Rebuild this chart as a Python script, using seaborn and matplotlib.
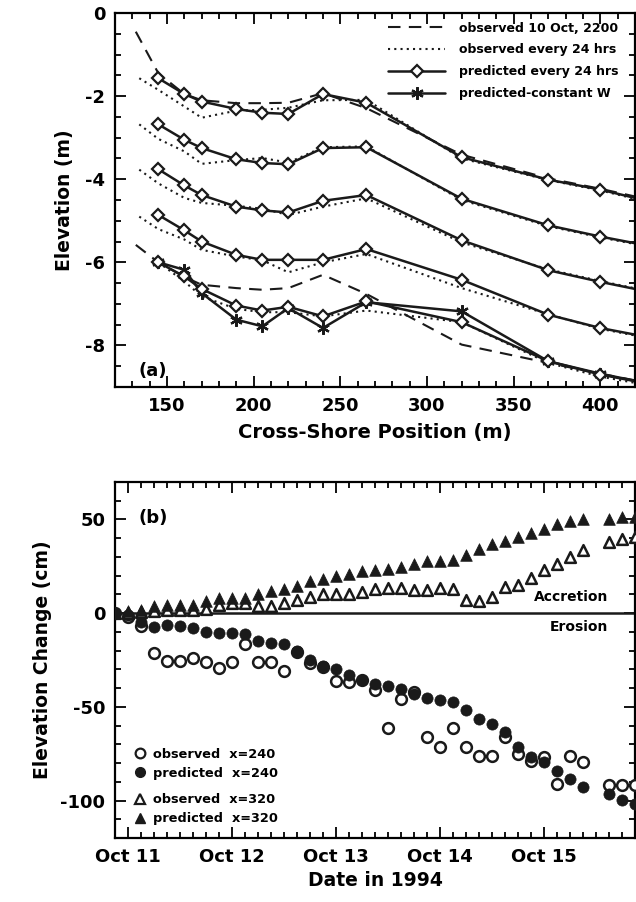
import numpy as np
import pandas as pd
import matplotlib
matplotlib.use("Agg")
import matplotlib.pyplot as plt
import seaborn as sns
from matplotlib.lines import Line2D
from matplotlib.ticker import MultipleLocator

# ---- panel (a): cross-shore profiles (m), offset for display ----
x_pred = [145, 160, 170, 190, 205, 220, 240, 265, 320, 370, 400, 440]
pred_1 = [-1.57, -1.95, -2.13, -2.31, -2.40, -2.43, -1.95, -2.16, -3.47, -4.01, -4.25, -4.65]
pred_2 = [-2.68, -3.05, -3.25, -3.52, -3.61, -3.64, -3.25, -3.23, -4.47, -5.11, -5.38, -5.70]
pred_3 = [-3.76, -4.15, -4.38, -4.66, -4.75, -4.80, -4.52, -4.38, -5.47, -6.19, -6.47, -6.81]
pred_4 = [-4.86, -5.23, -5.50, -5.82, -5.94, -5.94, -5.94, -5.68, -6.42, -7.26, -7.58, -7.90]
pred_5 = [-6.00, -6.34, -6.64, -7.04, -7.16, -7.07, -7.30, -6.94, -7.44, -8.38, -8.70, -9.02]
const_w = [-6.00, -6.18, -6.74, -7.38, -7.54, -7.10, -7.58, -6.96, -7.18, -8.38, -8.68, -9.02]

x_obs = [134, 145, 160, 170, 190, 205, 220, 240, 265, 320, 370, 400, 440]
obs_1 = [-1.57, -1.85, -2.25, -2.52, -2.35, -2.33, -2.28, -2.10, -2.09, -3.50, -4.02, -4.27, -4.67]
obs_2 = [-2.68, -3.03, -3.33, -3.63, -3.54, -3.49, -3.60, -3.23, -3.21, -4.50, -5.13, -5.40, -5.72]
obs_3 = [-3.77, -4.10, -4.45, -4.57, -4.64, -4.71, -4.86, -4.66, -4.46, -5.52, -6.17, -6.45, -6.80]
obs_4 = [-4.90, -5.20, -5.45, -5.70, -5.86, -5.95, -6.24, -6.00, -5.80, -6.62, -7.25, -7.60, -7.92]
x_obs5 = [145, 160, 170, 190, 205, 220, 240, 265, 320, 370, 400, 440]
obs_5 = [-6.00, -6.46, -6.82, -7.12, -7.20, -7.20, -7.30, -7.16, -7.44, -8.42, -8.75, -9.05]

x_init = [132, 145, 160, 170, 190, 205, 220, 240, 265, 320, 370, 400, 440]
init_top = [-0.45, -1.45, -1.95, -2.10, -2.17, -2.17, -2.16, -1.93, -2.29, -3.41, -3.98, -4.23, -4.60]
init_bot = [-5.58, -6.00, -6.35, -6.54, -6.62, -6.66, -6.62, -6.30, -6.76, -7.98, -8.42, -8.68, -9.00]

# ---- panel (b): elevation change (cm) every 3 hours from Oct 10 21:00 ----
hours = list(range(-3, 120, 3))
obs_240 = [0, -2.0, -6.6, -21.2, -25.7, -25.7, -23.9, -26.2, -29.2, -26.2, -16.4, -26.2, -26.2,
           -31.0, -20.5, -26.5, -28.5, -36.0, -36.5, -35.5, -41.0, -61.3, -45.8, -42.2, -66.3,
           -71.3, -61.3, -71.3, -76.5, -76.5, -65.9, -75.2, -79.1, -76.6, -91.2, -76.5, -79.3,
           np.nan, -91.6, -91.6, -91.6]
pred_240 = [0, -1.0, -4.8, -7.5, -6.2, -6.6, -8.0, -10.1, -10.5, -10.5, -11.0, -15.0, -15.8,
            -16.4, -20.3, -24.8, -28.0, -29.7, -32.8, -35.6, -37.8, -38.7, -40.4, -43.1, -45.2,
            -46.1, -47.2, -51.7, -56.5, -59.1, -63.6, -71.3, -76.6, -79.7, -84.5, -88.6, -93.0,
            np.nan, -96.6, -99.8, -101.9]
obs_320 = [0, 0, 0.5, 1.0, 1.5, 1.5, 1.5, 2.3, 4.5, 5.3, 5.3, 3.6, 3.6, 5.3, 6.8, 8.6, 10.0,
           10.0, 10.0, 11.2, 12.8, 13.6, 13.6, 12.1, 12.5, 13.6, 13.0, 7.1, 6.3, 8.6, 13.9, 14.8,
           18.9, 23.2, 26.4, 30.0, 33.9, np.nan, 38.0, 39.4, 40.6]
pred_320 = [0, 1.2, 1.8, 3.8, 4.1, 4.3, 4.3, 6.3, 7.9, 8.2, 8.2, 10.4, 11.8, 12.7, 14.6, 17.0,
            18.2, 19.6, 20.7, 22.3, 23.2, 23.7, 24.6, 26.4, 27.6, 27.8, 28.5, 31.2, 34.0, 37.1,
            38.5, 40.6, 42.8, 45.1, 47.4, 49.0, 50.0, np.nan, 50.5, 51.3, 51.3]
day_ticks = [0, 24, 48, 72, 96]
day_labels = ["Oct 11", "Oct 12", "Oct 13", "Oct 14", "Oct 15"]

sns.set_theme(style="ticks")
plt.rcParams['font.family'] = ['DejaVu Sans']
plt.rcParams['font.weight'] = 'bold'
plt.rcParams['axes.labelweight'] = 'bold'
plt.rcParams['axes.linewidth'] = 1.6
plt.rcParams['axes.unicode_minus'] = False
for key in ['text.color', 'axes.labelcolor', 'axes.edgecolor', 'xtick.color', 'ytick.color']:
    plt.rcParams[key] = 'black'

fig = plt.figure(figsize=(6.36, 9.02), dpi=100)
ax1 = fig.add_axes([115 / 636, 1 - 387 / 902, 520 / 636, 374 / 902])
ax2 = fig.add_axes([115 / 636, 1 - 838 / 902, 520 / 636, 356 / 902])

# panel (a)
for ys in [init_top, init_bot]:
    sns.lineplot(x=x_init, y=ys, ax=ax1, sort=False, estimator=None, color='k',
                 lw=1.5, dashes=(6, 4))
for xs, ys in [(x_obs, obs_1), (x_obs, obs_2), (x_obs, obs_3), (x_obs, obs_4), (x_obs5, obs_5)]:
    sns.lineplot(x=xs, y=ys, ax=ax1, sort=False, estimator=None, color='k',
                 lw=1.5, dashes=(1, 2))
sns.lineplot(x=x_pred, y=const_w, ax=ax1, sort=False, estimator=None, color='k', lw=1.8,
             marker=(6, 2, 0), ms=9, mew=1.6, mec='k')
for ys in [pred_1, pred_2, pred_3, pred_4, pred_5]:
    sns.lineplot(x=x_pred, y=ys, ax=ax1, sort=False, estimator=None, color='k', lw=1.8,
                 marker='D', ms=6, mfc='white', mec='k', mew=1.6)

ax1.set_xlim(120, 420)
ax1.set_ylim(-9, 0)
ax1.xaxis.set_major_locator(MultipleLocator(50))
ax1.xaxis.set_minor_locator(MultipleLocator(10))
ax1.yaxis.set_major_locator(MultipleLocator(2))
ax1.yaxis.set_minor_locator(MultipleLocator(0.5))
ax1.set_xlabel("Cross-Shore Position (m)", fontsize=14, labelpad=6)
ax1.set_ylabel("Elevation (m)", fontsize=13.5, labelpad=8)
ax1.text(0.045, 0.03, "(a)", transform=ax1.transAxes, fontsize=13, fontweight='bold')

handles_a = [
    Line2D([], [], color='k', lw=1.5, ls=(0, (6, 4))),
    Line2D([], [], color='k', lw=1.5, ls=(0, (1, 2))),
    Line2D([], [], color='k', lw=1.8, marker='D', ms=6, mfc='white', mew=1.6, markevery=[0, -1]),
    Line2D([], [], color='k', lw=1.8, marker=(6, 2, 0), ms=9, mew=1.6, markevery=[0, -1]),
]
labels_a = ["observed 10 Oct, 2200", "observed every 24 hrs",
            "predicted every 24 hrs", "predicted-constant W"]
ax1.legend(handles_a, labels_a, loc='upper left', bbox_to_anchor=(0.515, 0.99),
           frameon=False, fontsize=9.0, handlelength=4.6, handletextpad=1.1,
           labelspacing=0.7, borderaxespad=0)

# panel (b)
df_b = pd.DataFrame({"hour": hours, "obs_240": obs_240, "pred_240": pred_240,
                     "obs_320": obs_320, "pred_320": pred_320})
sns.scatterplot(data=df_b, x="hour", y="obs_240", ax=ax2, marker='o', s=60,
                facecolor='white', edgecolor='k', linewidth=1.8, zorder=3)
sns.scatterplot(data=df_b, x="hour", y="pred_240", ax=ax2, marker='o', s=65,
                color='k', edgecolor='k', linewidth=0.5, zorder=3)
sns.scatterplot(data=df_b, x="hour", y="obs_320", ax=ax2, marker='^', s=60,
                facecolor='white', edgecolor='k', linewidth=1.8, zorder=3)
sns.scatterplot(data=df_b, x="hour", y="pred_320", ax=ax2, marker='^', s=70,
                color='k', edgecolor='k', linewidth=0.5, zorder=3)
ax2.axhline(0, color='k', lw=1.8, zorder=2)

ax2.set_xlim(-3, 117)
ax2.set_ylim(-120, 70)
ax2.set_xticks(day_ticks)
ax2.set_xticklabels(day_labels)
ax2.xaxis.set_minor_locator(MultipleLocator(3))
ax2.yaxis.set_major_locator(MultipleLocator(50))
ax2.yaxis.set_minor_locator(MultipleLocator(10))
ax2.set_xlabel("Date in 1994", fontsize=13.5, labelpad=4)
ax2.set_ylabel("Elevation Change (cm)", fontsize=13.5, labelpad=6)
ax2.text(0.045, 0.885, "(b)", transform=ax2.transAxes, fontsize=13, fontweight='bold')
ax2.text(110.8, 8.6, "Accretion", ha='right', va='center', fontsize=10, fontweight='bold')
ax2.text(110.8, -7.5, "Erosion", ha='right', va='center', fontsize=10, fontweight='bold')

h1 = [Line2D([], [], ls='none', marker='o', ms=7, mfc='white', mec='k', mew=1.6),
      Line2D([], [], ls='none', marker='o', ms=7, mfc='k', mec='k')]
h2 = [Line2D([], [], ls='none', marker='^', ms=7.5, mfc='white', mec='k', mew=1.6),
      Line2D([], [], ls='none', marker='^', ms=7.5, mfc='k', mec='k')]
leg1 = ax2.legend(h1, ["observed  x=240", "predicted  x=240"], loc='upper left',
                  bbox_to_anchor=(0.025, 0.268), frameon=False, fontsize=9.3,
                  handlelength=1.0, handletextpad=0.5, labelspacing=0.45, borderaxespad=0)
ax2.add_artist(leg1)
ax2.legend(h2, ["observed  x=320", "predicted  x=320"], loc='upper left',
           bbox_to_anchor=(0.025, 0.14), frameon=False, fontsize=9.3,
           handlelength=1.0, handletextpad=0.5, labelspacing=0.45, borderaxespad=0)

for ax in (ax1, ax2):
    ax.tick_params(which='both', direction='in', top=True, right=True, width=1.3,
                   labelsize=13, pad=7)
    ax.tick_params(which='major', length=8)
    ax.tick_params(which='minor', length=4)
    for lab in ax.get_xticklabels() + ax.get_yticklabels():
        lab.set_fontweight('bold')

fig.savefig("out.png", dpi=100)
